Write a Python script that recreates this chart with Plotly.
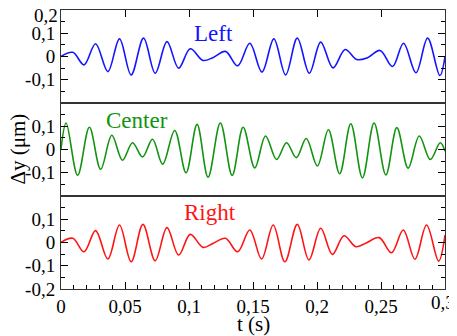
import plotly.graph_objects as go
from plotly.subplots import make_subplots

# Extrema (t in s, dy in um)
t_left = [0, 0.0092, 0.018, 0.027, 0.0366, 0.0457, 0.0548, 0.0645, 0.0736, 0.0828, 0.0919,
          0.101, 0.111, 0.119, 0.1285, 0.138, 0.1475, 0.157, 0.1663, 0.1755, 0.1846, 0.194,
          0.2029, 0.2125, 0.222, 0.231, 0.2395, 0.2493, 0.259, 0.2676, 0.2773, 0.2864, 0.296, 0.3]
y_left = [0, 0.018, -0.036, 0.055, -0.065, 0.076, -0.079, 0.079, -0.072, 0.064, -0.050,
          0.033, -0.017, -0.004, 0.022, -0.040, 0.057, -0.067, 0.076, -0.079, 0.079, -0.072,
          0.062, -0.049, 0.030, -0.013, -0.005, 0.026, -0.043, 0.057, -0.070, 0.079, -0.082, 0.0]

t_center = [0, 0.004, 0.013, 0.0222, 0.031, 0.0397, 0.048, 0.0559, 0.0637, 0.0715, 0.0794,
            0.0888, 0.0977, 0.1063, 0.1149, 0.1245, 0.1337, 0.1423, 0.1514, 0.1598, 0.1684,
            0.1762, 0.1838, 0.1916, 0.2003, 0.2089, 0.2177, 0.2264, 0.2355, 0.2446, 0.2538,
            0.2624, 0.2712, 0.2799, 0.2885, 0.2963, 0.3]
y_center = [0, 0.114, -0.111, 0.096, -0.085, 0.061, -0.046, 0.029, -0.032, 0.044, -0.063,
            0.082, -0.100, 0.108, -0.119, 0.114, -0.111, 0.096, -0.079, 0.058, -0.043,
            0.029, -0.035, 0.047, -0.071, 0.085, -0.104, 0.111, -0.122, 0.114, -0.109,
            0.094, -0.080, 0.058, -0.043, 0.029, -0.007]

t_right = [0, 0.0092, 0.018, 0.027, 0.0366, 0.0457, 0.0548, 0.064, 0.0736, 0.0828, 0.0919,
           0.101, 0.111, 0.119, 0.1285, 0.138, 0.1475, 0.1567, 0.1658, 0.1749, 0.1846, 0.1937,
           0.2029, 0.212, 0.2211, 0.2303, 0.2381, 0.2486, 0.2582, 0.2674, 0.2765, 0.2856, 0.295, 0.3]
y_right = [0, 0.018, -0.040, 0.051, -0.071, 0.075, -0.083, 0.078, -0.078, 0.064, -0.054,
           0.035, -0.021, -0.003, 0.018, -0.040, 0.054, -0.071, 0.075, -0.083, 0.078, -0.075,
           0.061, -0.051, 0.029, -0.018, -0.003, 0.021, -0.044, 0.054, -0.072, 0.075, -0.080, 0.032]

panel_names = ['Left', 'Center', 'Right']
colors = ['#1414ff', '#11940f', '#ff1414']

x_tickvals = [0, 0.05, 0.1, 0.15, 0.2, 0.25]
x_ticktext = ['0', '0,05', '0,1', '0,15', '0,2', '0,25']

FONT = 'Liberation Serif'

fig = make_subplots(rows=3, cols=1, vertical_spacing=0)

series = [(t_left, y_left), (t_center, y_center), (t_right, y_right)]
for i, (t, y) in enumerate(series):
    fig.add_trace(go.Scatter(x=t, y=y, mode='lines', line=dict(color=colors[i], width=1.6, shape='spline', smoothing=1),
                             showlegend=False), row=i + 1, col=1)

# y tick labels differ per panel; the top "0,2" is an annotation so it sits just under the edge
y_ticks = [
    ([0.1, 0, -0.1], ['0,1', '0', '-0,1']),
    ([0.1, 0, -0.1], ['0,1', '0', '-0,1']),
    ([0.1, 0, -0.1, -0.1999], ['0,1', '0', '-0,1', '-0,2']),
]
for i in range(3):
    vals, text = y_ticks[i]
    fig.update_yaxes(range=[-0.2, 0.2], tickvals=vals, ticktext=text, ticks='inside', ticklen=7,
                     tickwidth=1, tickcolor='black', showline=True, linecolor='#333333', linewidth=1,
                     mirror='ticks', showgrid=False, zeroline=False, automargin=False,
                     minor=dict(dtick=0.05, tick0=0, ticks='inside', ticklen=4, tickcolor='black'),
                     tickfont=dict(family=FONT, size=19, color='black'), ticklabelstandoff=1,
                     ticklabeloverflow='allow', row=i + 1, col=1)

for i in range(3):
    fig.update_xaxes(range=[0, 0.3], showline=True, linecolor='#333333', linewidth=1, mirror=True,
                     showgrid=False, zeroline=False, showticklabels=False, ticks='', automargin=False,
                     row=i + 1, col=1)

# top panel: ticks along the top edge
fig.update_xaxes(side='top', ticks='inside', ticklen=7, tickcolor='black', dtick=0.05, tick0=0,
                 row=1, col=1)
# bottom panel: labelled axis
fig.update_xaxes(ticks='inside', ticklen=7, tickcolor='black',
                 showticklabels=True, tickvals=x_tickvals, ticktext=x_ticktext,
                 minor=dict(dtick=0.01, tick0=0, ticks='inside', ticklen=4, tickcolor='black'),
                 tickfont=dict(family=FONT, size=19, color='black'), ticklabeloverflow='allow',
                 row=3, col=1)

# end labels placed by hand so they stay inside the page
fig.add_annotation(x=0, y=0.2, xref='x', yref='y', xanchor='right', yanchor='middle',
                   xshift=-1, yshift=-5, text='0,2', showarrow=False,
                   font=dict(family=FONT, size=19, color='black'))
fig.add_annotation(x=0.3, y=-0.2, xref='x3', yref='y3', xanchor='right', yanchor='top',
                   xshift=12, yshift=-1, text='0,3', showarrow=False,
                   font=dict(family=FONT, size=19, color='black'))

# panel labels
label_pos = [(0.119, 0.099), (0.0595, 0.125), (0.1167, 0.127)]
for i, name in enumerate(panel_names):
    ax = '' if i == 0 else str(i + 1)
    fig.add_annotation(x=label_pos[i][0], y=label_pos[i][1], xref='x' + ax, yref='y' + ax, text=name,
                       showarrow=False, font=dict(family=FONT, size=23, color=colors[i]))

fig.add_annotation(x=0, y=0.5, xref='paper', yref='paper', xanchor='center', yanchor='middle',
                   xshift=-44, text='Δy (μm)', textangle=-90, showarrow=False,
                   font=dict(family=FONT, size=21, color='black'))
fig.add_annotation(x=0.5, y=0, xref='paper', yref='paper', xanchor='center', yanchor='middle',
                   yshift=-35, text='t (s)', showarrow=False,
                   font=dict(family=FONT, size=21, color='black'))

# the page adds an 8px body margin, so the figure is 8px smaller and margins shifted
fig.update_layout(width=449, height=328, margin=dict(l=53, r=12, t=2, b=47),
                  plot_bgcolor='white', paper_bgcolor='white')

fig.write_html("out.html")
